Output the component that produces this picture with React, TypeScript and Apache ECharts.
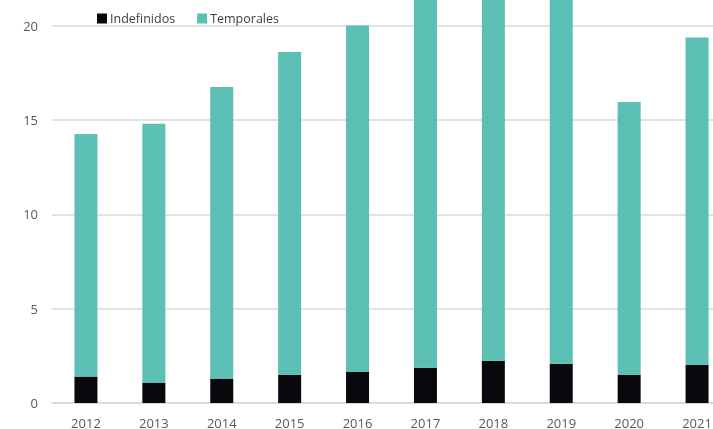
import React, { useEffect, useRef } from "react";
import * as echarts from "echarts";

const years = ["2012", "2013", "2014", "2015", "2016", "2017", "2018", "2019", "2020", "2021"];
const indefinidos = [1.4, 1.08, 1.29, 1.5, 1.66, 1.87, 2.24, 2.08, 1.5, 2.03];
const temporales = [12.85, 13.72, 15.45, 17.1, 18.34, 20.6, 21.3, 20.9, 14.45, 17.34];
const yTicks = [0, 5, 10, 15, 20, 25];

const OFF_TOP = 70;
const EXTRA_RIGHT = 18;

export default function App() {
  const ref = useRef<HTMLDivElement>(null);
  useEffect(() => {
    if (!ref.current) return;
    const chart = echarts.init(ref.current, null, { renderer: "svg" });
    const font = "'Open Sans', 'Noto Sans', sans-serif";
    chart.setOption({
      animation: false,
      textStyle: { fontFamily: font },
      legend: {
        left: 92,
        top: 7 + OFF_TOP,
        itemWidth: 10,
        itemHeight: 10,
        itemGap: 22,
        textStyle: { fontSize: 12.5, color: "#404040", fontFamily: font, padding: [0, 0, 0, -2] },
        data: [
          { name: "Indefinidos", icon: "rect" },
          { name: "Temporales", icon: "rect" },
        ],
      },
      grid: { left: 52, right: 0, top: OFF_TOP - 68.75, bottom: 23.5, containLabel: false },
      xAxis: {
        type: "category",
        data: years,
        axisLine: { show: true, lineStyle: { color: "#d9d9d9", width: 1.5 } },
        axisTick: { show: false },
        axisLabel: { color: "#595959", fontSize: 13, margin: 13, fontFamily: font },
      },
      yAxis: {
        type: "value",
        min: yTicks[0],
        max: yTicks[yTicks.length - 1],
        interval: 5,
        axisLine: { show: false },
        axisTick: { show: false },
        splitLine: { lineStyle: { color: "#d9d9d9", width: 1.5 } },
        axisLabel: {
          color: "#595959",
          fontSize: 13,
          margin: 14,
          fontFamily: font,
          showMaxLabel: false,
        },
      },
      series: [
        {
          name: "Indefinidos",
          type: "bar",
          stack: "total",
          barWidth: 23,
          data: indefinidos,
          itemStyle: { color: "#08080d" },
        },
        {
          name: "Temporales",
          type: "bar",
          stack: "total",
          barWidth: 23,
          data: temporales,
          itemStyle: { color: "#5bbfb4" },
        },
      ],
    });
    return () => chart.dispose();
  }, []);
  return (
    <div style={{ position: "fixed", left: 0, top: 0, width: 713, height: 429, overflow: "hidden" }}>
      <div
        ref={ref}
        style={{ position: "absolute", left: 0, top: -OFF_TOP, width: 713 + EXTRA_RIGHT, height: 429 + OFF_TOP }}
      />
    </div>
  );
}
